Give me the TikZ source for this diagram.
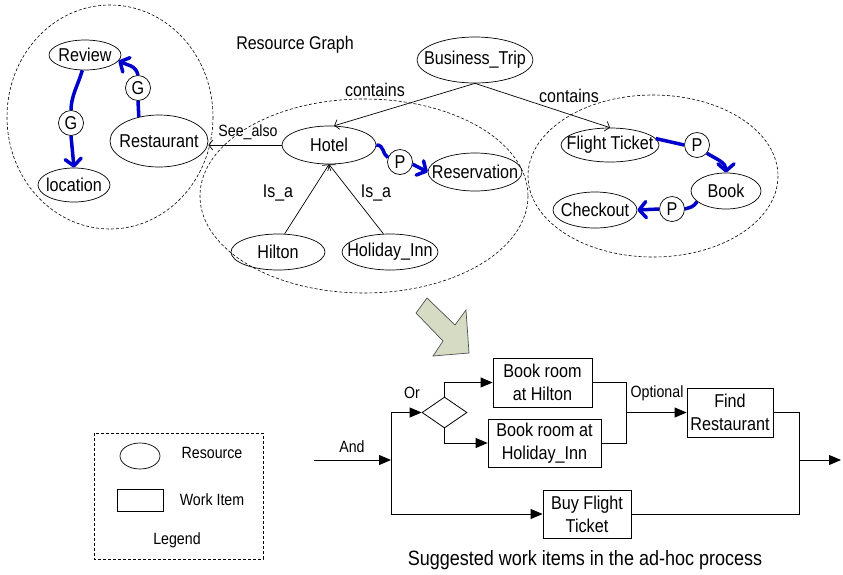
\documentclass[tikz,border=0pt]{standalone}
\usepackage{fontspec}
\setmainfont[FakeStretch=0.87]{Liberation Sans}
\usetikzlibrary{shapes.geometric,arrows.meta}

\definecolor{relblue}{RGB}{0,0,204}
\definecolor{hintfill}{RGB}{214,220,196}
\definecolor{hintline}{RGB}{80,80,80}

% text of a resource must not widen its ellipse
\newcommand{\nt}[1]{\makebox[0pt]{#1}}

\tikzset{
    resource/.style={ellipse, draw, line width=0.7pt, inner sep=0pt},
    gate/.style={circle, draw, line width=0.7pt, inner sep=0pt, minimum size=25},
    workitem/.style={rectangle, draw, line width=0.8pt, inner sep=0pt, align=center},
    gateway/.style={diamond, draw, line width=0.8pt, inner sep=0pt, minimum width=45, minimum height=31},
    group/.style={draw, line width=0.6pt, dash pattern=on 3pt off 2pt},
    rel/.style={draw, line width=0.7pt, -{Straight Barb[length=4pt,width=10pt]}},
    flow/.style={draw=relblue, line width=3.5pt},
    flowtip/.style={flow, -{Straight Barb[length=7pt,width=16pt,round]}},
    wire/.style={draw, line width=0.8pt},
    wiarrow/.style={wire, -{Triangle[length=12pt,width=10pt]}},
    lbl/.style={font=\fontsize{16.3}{18}\selectfont},
    biglbl/.style={font=\fontsize{18.4}{20}\selectfont}
}

\begin{document}
\begin{tikzpicture}[x=1pt, y=-1pt, font=\fontsize{18.6}{23}\selectfont]
    \useasboundingbox (0,0) rectangle (843,574);

    % Resource groups
    \draw[group] (110,117) ellipse [x radius=103, y radius=112];
    \draw[group] (364,196) ellipse [x radius=164, y radius=97];
    \draw[group] (653,176) ellipse [x radius=125, y radius=81];

    % Resources
    \node[resource, minimum width=72, minimum height=30] (review) at (85,55) {\nt{Review}};
    \node[resource, minimum width=72, minimum height=34] (location) at (74,185) {\nt{location}};
    \node[resource, minimum width=98, minimum height=52] (restaurant) at (159,141) {\nt{Restaurant}};
    \node[resource, minimum width=116, minimum height=46] (trip) at (475,60) {\nt{Business\_Trip}};
    \node[resource, minimum width=94, minimum height=38] (hotel) at (329,145) {\nt{Hotel}};
    \node[resource, minimum width=94, minimum height=38] (reservation) at (475,172) {\nt{Reservation}};
    \node[resource, minimum width=94, minimum height=36] (hilton) at (278,252) {\nt{Hilton}};
    \node[resource, minimum width=96, minimum height=36] (holiday) at (390,252) {\nt{Holiday\_Inn}};
    \node[resource, minimum width=98, minimum height=34] (flight) at (610,145) {\nt{Flight Ticket}};
    \node[resource, minimum width=70, minimum height=36] (book) at (726,191) {\nt{Book}};
    \node[resource, minimum width=84, minimum height=36] (checkout) at (595,210) {\nt{Checkout}};

    % G and P relation markers
    \node[gate] (g1) at (71,123) {G};
    \node[gate] (g2) at (138,88) {G};
    \node[gate] (p1) at (400,162) {P};
    \node[gate] (p2) at (697,145) {P};
    \node[gate] (p3) at (672,209) {P};

    \node[biglbl] at (295,45) {Resource Graph};

    % Plain relations
    \draw[rel] (trip.south) -- (hotel.75);
    \draw[rel] (trip.south) -- (flight.north);
    \draw[rel] (hotel.west) -- (hotel.west -| restaurant.east);
    \draw[rel] (hilton.70) -- (hotel.south);
    \draw[rel] (holiday.110) -- (hotel.south);
    \node[biglbl] (c1) at (375,90) {contains};
    \node[biglbl] (c2) at (569,96) {contains};
    \node[lbl] (sa) at (248,132) {See\_also};
    \foreach \x in {278,376}
        \node[biglbl] at (\x,193) {Is\_a};

    % Blue G / P chains
    \draw[flow] (review.-100) .. controls +(-4,14) and +(0,-14) .. (g1.north);
    \draw[flowtip] (g1.south) -- (location.north);
    \draw[flow] (restaurant.130) -- (g2.south);
    \draw[flowtip] (g2.north) .. controls +(-2,-10) and +(8,4) .. (review.-10);
    \draw[flow] (hotel.east) .. controls +(8,0) and +(-6,-4) .. (p1.160);
    \draw[flowtip] (p1.-10) -- (reservation.west);
    \draw[flow] (flight.8) -- (p2.west);
    \draw[flowtip] (p2.-40) .. controls +(10,6) and +(0,-10) .. (book.north);
    \draw[flow] (book.-160) .. controls +(-4,6) and +(6,-2) .. (p3.east);
    \draw[flowtip] (p3.west) -- (checkout.east);

    % Big hint arrow
    \filldraw[fill=hintfill, draw=hintline, line width=0.7pt]
        (416,313) -- (427,298) -- (455,325) -- (466,310) -- (469,353)
        -- (433,356) -- (443,341) -- cycle;

    % Work items
    \node[workitem, minimum width=99, minimum height=49] (wihilton) at (542.5,382.5) {Book room\\at Hilton};
    \node[workitem, minimum width=113, minimum height=48] (wiholiday) at (544.5,443) {Book room at\\Holiday\_Inn};
    \node[workitem, minimum width=86, minimum height=49] (wifind) at (730,412.5) {Find\\Restaurant};
    \node[workitem, minimum width=88, minimum height=48] (wibuy) at (587,514) {Buy Flight\\Ticket};
    \node[gateway] (orgate) at (444.5,412.5) {};

    \coordinate (start) at (314,460);
    \coordinate (andsplit) at (391,460);
    \coordinate (andtop) at (391,412.5);
    \coordinate (andbot) at (391,514);
    \coordinate (orjoin) at (626,412.5);
    \coordinate (andjoin) at (799,460);
    \coordinate (finish) at (841,460);

    % Process flow
    \draw[wiarrow] (start) -- (andsplit);
    \draw[wire] (andtop) -- (andbot);
    \draw[wiarrow] (andtop) -- (orgate.west);
    \draw[wiarrow] (orgate.north) |- (wihilton.west);
    \draw[wiarrow] (orgate.south) |- (wiholiday.west);
    \draw[wiarrow] (andbot) -- (wibuy.west);
    \draw[wire] (wihilton.east) -- (wihilton.east -| orjoin) -- (wiholiday.east -| orjoin) -- (wiholiday.east);
    \draw[wiarrow] (orjoin) -- (wifind.west);
    \draw[wire] (wifind.east) -- (wifind.east -| andjoin) -- (wibuy.east -| andjoin) -- (wibuy.east);
    \draw[wiarrow] (andjoin) -- (finish);
    \node[lbl] at (352,447) {And};
    \node[lbl] at (412,393) {Or};
    \node[lbl] at (657,393) {Optional};
    \node at (585,560) {\fontsize{20.7}{23}\selectfont Suggested work items in the ad-hoc process};

    % Legend
    \draw[group] (94,433) rectangle (263,559);
    \node[resource, minimum width=40, minimum height=26] (legres) at (140,456) {};
    \node[workitem, minimum width=46, minimum height=22] (legwi) at (140,500) {};
    \node[lbl] at (212,453) {Resource};
    \node[lbl] at (212,500) {Work Item};
    \node[lbl] at (177,540) {Legend};
\end{tikzpicture}
\end{document}
